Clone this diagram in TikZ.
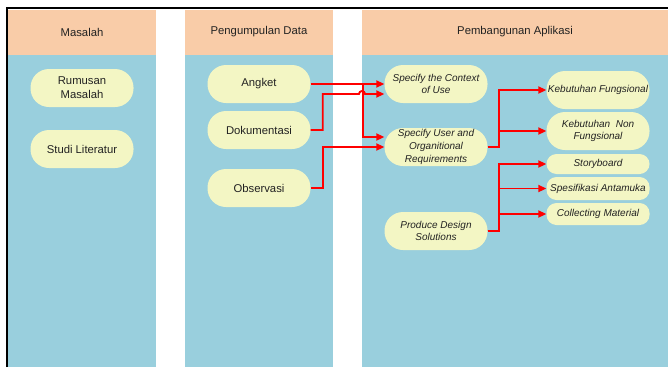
\documentclass[tikz,border=0pt]{standalone}
\usepackage{fontspec}
\setmainfont{Liberation Sans}
\usepackage{tikz}
\usetikzlibrary{arrows.meta}
\definecolor{peach}{HTML}{F9CCA8}
\definecolor{lane}{HTML}{99CFDD}
\definecolor{pillyellow}{HTML}{F3F6C4}
\definecolor{ink}{HTML}{222222}

\begin{document}
\begin{tikzpicture}[x=1pt, y=-1pt,
pill/.style={fill=pillyellow, rounded corners=18.5pt, minimum width=103pt, minimum height=38pt,
  inner sep=1pt, align=center, text=ink, font=\fontsize{11.3}{14}\selectfont},
pillit/.style={pill, font=\fontsize{10}{12.8}\selectfont\itshape},
smallpill/.style={pillit, rounded corners=10pt, minimum height=21pt},
head/.style={text=ink, font=\fontsize{11.3}{14}\selectfont},
flow/.style={red, line width=1.9pt, -{Triangle[length=8pt,width=7pt]}}]
\useasboundingbox (0,0) rectangle (668,367);
% lanes
\fill[lane] (7.5,55) rectangle (156,367);
\fill[lane] (185,55) rectangle (333,367);
\fill[lane] (362,55) rectangle (668,367);
\fill[peach] (7.5,10) rectangle (156,55);
\fill[peach] (185,10) rectangle (333,55);
\fill[peach] (362,10) rectangle (668,55);
\draw[line width=2pt] (6.5,367) -- (6.5,8) -- (668,8);
\node[head] (hmasalah) at (82,32) {Masalah};
\node[head] (hdata) at (259,32) {Pengumpulan Data};
\node[head] (happ) at (515,32) {Pembangunan Aplikasi};

\node[pill] (rumusan) at (82,88) {Rumusan\\Masalah};
\node[pill] (studi) at (82,149) {Studi Literatur};

\node[pill] (angket) at (259,84) {Angket};
\node[pill] (doku) at (259,130) {Dokumentasi};
\node[pill] (obs) at (259,188) {Observasi};

\node[pillit] (context) at (436,84) {Specify the Context\\of Use};
\node[pillit] (user) at (436,147) {Specify User and\\Organitional\\Requirements};
\node[pillit] (design) at (436,231) {Produce Design\\Solutions};

\node[pillit] (kf) at (598,90) {Kebutuhan Fungsional};
\node[pillit] (knf) at (598,131) {Kebutuhan~ Non\\Fungsional};
\node[smallpill, minimum height=20pt] (story) at (598,164) {Storyboard};
\node[smallpill, minimum height=23pt] (spek) at (598,188.5) {Spesifikasi Antamuka};
\node[smallpill, minimum height=22pt] (collect) at (598,214) {Collecting Material};

% connectors
\draw[flow] (angket.east) -- (context.west);
\draw[flow] (angket.east) -- ++(52,0) |- ([yshift=10pt]user.west);
\draw[flow] (doku.east) -- ++(12,0) |- (359,94) arc[start angle=180, end angle=0, radius=3pt]
  -- ([yshift=-10pt]context.west);
\draw[flow] (obs.east) -- ++(12,0) |- (user.west);
\draw[flow] (user.east) -- ++(11,0) |- (kf.west);
\draw[flow] (user.east) -- ++(11,0) |- (knf.west);
\draw[flow] (design.east) -- ++(11,0) |- (story.west);
\draw[flow] (design.east) -- ++(11,0) |- (spek.west);
\draw[flow] (design.east) -- ++(11,0) |- (collect.west);
\end{tikzpicture}
\end{document}
